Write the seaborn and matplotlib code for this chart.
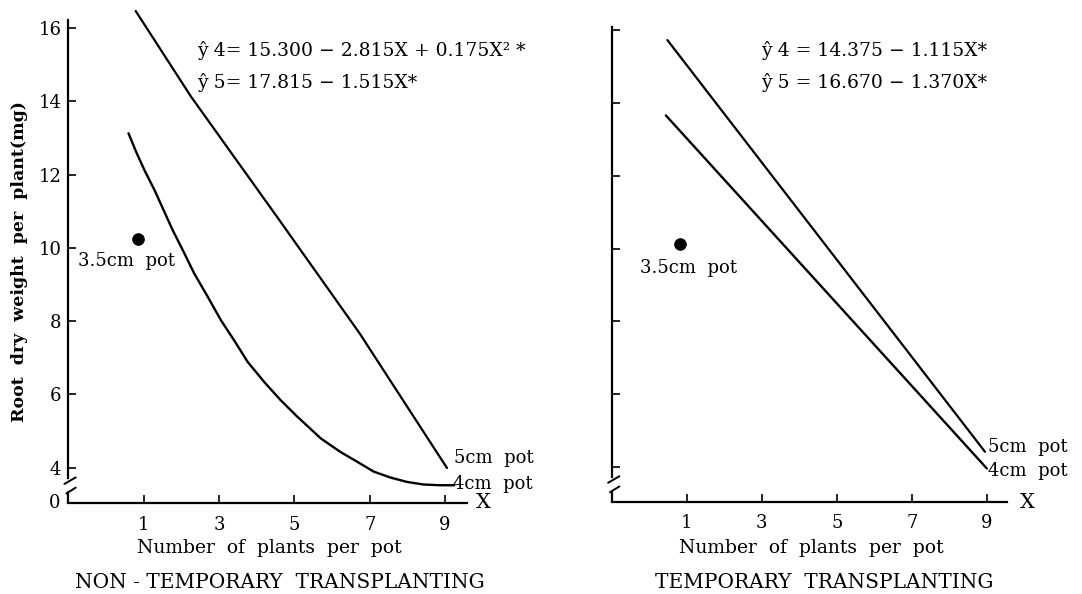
import matplotlib
matplotlib.use("Agg")
import matplotlib.pyplot as plt
import seaborn as sns
import pandas as pd

sns.set_style("white")
plt.rcParams["font.family"] = ["DejaVu Serif"]
plt.rcParams["text.color"] = "black"
plt.rcParams["xtick.color"] = "black"
plt.rcParams["ytick.color"] = "black"

# Values
# non-temporary transplanting
nt_x4 = [0.60, 0.80, 1.02, 1.29, 1.51, 1.77, 2.04, 2.34, 2.70, 3.05, 3.40, 3.76,
         4.20, 4.64, 5.08, 5.25, 5.70, 6.22, 6.67, 7.11, 7.55, 7.99, 8.43, 8.87, 9.24]
nt_y4 = [13.13, 12.63, 12.13, 11.58, 11.08, 10.49, 9.94, 9.31, 8.67, 8.03, 7.48, 6.89,
         6.34, 5.84, 5.39, 5.23, 4.80, 4.43, 4.16, 3.89, 3.73, 3.61, 3.54, 3.52, 3.52]
nt_x5 = [0.79, 2.26, 4.54, 6.73, 9.05]
nt_y5 = [16.47, 14.13, 10.85, 7.67, 3.99]
nt_dot = (0.86, 10.24)
# temporary transplanting
tt_x4 = [0.44, 9.0]
tt_y4 = [13.66, 3.96]
tt_x5 = [0.48, 8.95]
tt_y5 = [15.73, 4.42]
tt_dot = (0.81, 10.12)

x_ticks = [1, 3, 5, 7, 9]
y_ticks = [4, 6, 8, 10, 12, 14, 16]

nt_eq = ["ŷ 4= 15.300 − 2.815X + 0.175X² *", "ŷ 5= 17.815 − 1.515X*"]
tt_eq = ["ŷ 4 = 14.375 − 1.115X*", "ŷ 5 = 16.670 − 1.370X*"]

W, H = 1082, 594
fig = plt.figure(figsize=(W / 100, H / 100), dpi=100)


def ftext(x, y, s, **kw):
    # place text by pixel position from the top-left corner
    return fig.text(x / W, 1 - y / H, s, **kw)


def make_axes(left, right, bottom_px, top_px, ylo, yhi, xhi):
    ax = fig.add_axes([left / W, 1 - bottom_px / H, (right - left) / W,
                       (bottom_px - top_px) / H])
    ax.set_xlim(-1, xhi)
    ax.set_ylim(ylo, yhi)
    return ax


def style_axes(ax, ylo, ytop, labels):
    for s in ["top", "right"]:
        ax.spines[s].set_visible(False)
    for s in ["left", "bottom"]:
        ax.spines[s].set_linewidth(1.6)
        ax.spines[s].set_color("black")
    # broken y axis
    ax.spines["left"].set_bounds(3.72, ytop)
    ax.plot([-1, -1], [ylo, ylo + 0.3], color="black", lw=1.6, clip_on=False)
    ax.plot([-1.05, -0.8], [ylo + 0.26, ylo + 0.42], color="black", lw=1.4, clip_on=False)
    ax.plot([-1.1, -0.8], [ylo + 0.52, ylo + 0.70], color="black", lw=1.4, clip_on=False)
    ax.set_xticks(x_ticks)
    ax.set_xticklabels([str(v) for v in x_ticks], fontsize=13)
    ax.set_yticks(y_ticks)
    if labels:
        ax.set_yticklabels([str(v) for v in y_ticks], fontsize=13)
        ax.text(-1.2, ylo, "0", ha="right", va="center", fontsize=13)
    else:
        ax.set_yticklabels([])
    ax.tick_params(axis="both", direction="in", length=6, width=1.2,
                   left=True, bottom=True, pad=5)
    ax.tick_params(axis="x", pad=9)
    ax.set_xlabel("")
    ax.set_ylabel("")


def draw_panel(ax, x4, y4, x5, y5, dot):
    df4 = pd.DataFrame({"x": x4, "y": y4})
    df5 = pd.DataFrame({"x": x5, "y": y5})
    sns.lineplot(data=df4, x="x", y="y", ax=ax, color="black", lw=1.7,
                 sort=False, estimator=None, clip_on=False)
    sns.lineplot(data=df5, x="x", y="y", ax=ax, color="black", lw=1.6,
                 sort=False, estimator=None, clip_on=False)
    sns.scatterplot(x=[dot[0]], y=[dot[1]], ax=ax, color="black", s=70,
                    edgecolor="black", zorder=5)


# left panel
ax1 = make_axes(68.2, 466.6, 503, 11, 3.035, 16.47, 9.57)
draw_panel(ax1, nt_x4, nt_y4, nt_x5, nt_y5, nt_dot)
style_axes(ax1, 3.035, 16.23, True)

# right panel
ax2 = make_axes(611.9, 1006.7, 501.7, 26.6, 3.047, 16.1, 9.53)
draw_panel(ax2, tt_x4, tt_y4, tt_x5, tt_y5, tt_dot)
style_axes(ax2, 3.047, 16.08, False)

# annotations (pixel positions)
ftext(126, 261, "3.5cm  pot", fontsize=13, ha="center", va="center")
ftext(454, 458, "5cm  pot", fontsize=13, ha="left", va="center")
ftext(453, 484, "4cm  pot", fontsize=13, ha="left", va="center")
ftext(197, 50, nt_eq[0], fontsize=13.5, ha="left", va="center")
ftext(197, 83, nt_eq[1], fontsize=13.5, ha="left", va="center")
ftext(483, 503, "X", fontsize=15, ha="center", va="center")
ftext(269, 548, "Number  of  plants  per  pot", fontsize=13.5, ha="center", va="center")
ftext(280, 582, "NON - TEMPORARY  TRANSPLANTING", fontsize=14.5, ha="center", va="center")
ftext(20, 262, "Root  dry  weight  per  plant(mg)", fontsize=12.5, rotation=90,
      ha="center", va="center", fontweight="bold")

ftext(688, 268, "3.5cm  pot", fontsize=13, ha="center", va="center")
ftext(988, 447, "5cm  pot", fontsize=13, ha="left", va="center")
ftext(988, 471, "4cm  pot", fontsize=13, ha="left", va="center")
ftext(761, 50, tt_eq[0], fontsize=13.5, ha="left", va="center")
ftext(761, 83, tt_eq[1], fontsize=13.5, ha="left", va="center")
ftext(1027, 502, "X", fontsize=15, ha="center", va="center")
ftext(811, 548, "Number  of  plants  per  pot", fontsize=13.5, ha="center", va="center")
ftext(824, 582, "TEMPORARY  TRANSPLANTING", fontsize=14.5, ha="center", va="center")

fig.savefig("out.png", dpi=100)
